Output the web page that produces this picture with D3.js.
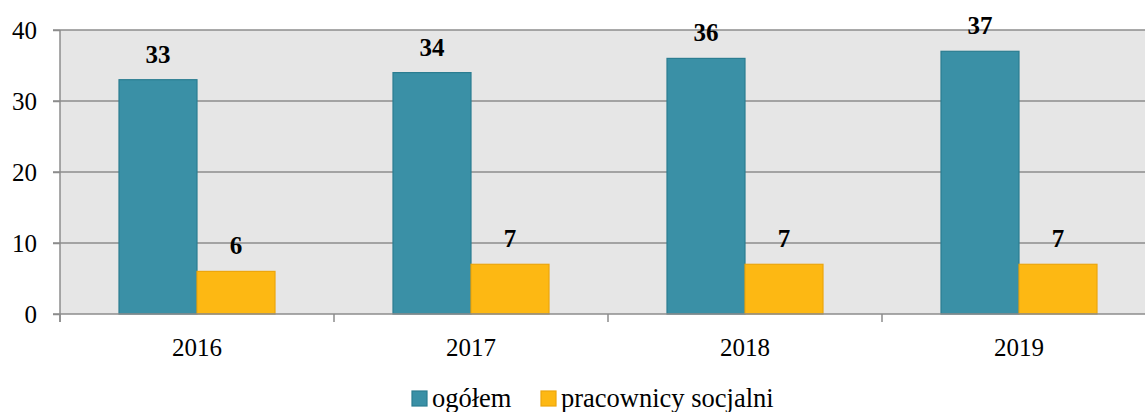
<!DOCTYPE html>
<html>
<head>
<meta charset="utf-8">
<script src="https://cdn.jsdelivr.net/npm/d3@7"></script>
<style>
  body { margin: 0; background: #fff; }
  svg text { font-family: "Liberation Serif", "Times New Roman", serif !important; fill: #000; }
</style>
</head>
<body>
<div id="container"></div>
<script>
const years = ['2016', '2017', '2018', '2019'];
const seriesNames = ['ogółem', 'pracownicy socjalni'];
const ogolem = [33, 34, 36, 37];
const pracownicy = [6, 7, 7, 7];
const yTicks = [0, 10, 20, 30, 40];
const colors = ['#3a90a6', '#fdb813'];
const strokes = ['#2b7d91', '#eda60c'];

const w = 1145, h = 412;
const plotLeft = 60, plotTop = 30, plotBottom = 314;
const catW = 274;

const svg = d3.select('#container').append('svg')
  .attr('width', w).attr('height', h)
  .attr('font-family', '"Liberation Serif", serif');

const xScale = d3.scaleBand()
  .domain(years)
  .range([plotLeft, plotLeft + catW * years.length]);

const yScale = d3.scaleLinear()
  .domain([0, 40])
  .range([plotBottom, plotTop]);

// plot background
svg.append('rect')
  .attr('x', plotLeft).attr('y', plotTop)
  .attr('width', catW * years.length).attr('height', plotBottom - plotTop)
  .attr('fill', '#e6e6e6');

// gridlines
svg.append('g').selectAll('line')
  .data(yTicks.filter(d => d > 0))
  .enter().append('line')
  .attr('x1', plotLeft - 7).attr('x2', plotLeft + catW * years.length)
  .attr('y1', d => yScale(d)).attr('y2', d => yScale(d))
  .attr('stroke', '#8c8c8c').attr('stroke-width', 1.5);

const data = [ogolem, pracownicy];
const inner = d3.scaleBand().domain([0, 1]).range([0, 156]);
const offset = (catW - 156) / 2;

data.forEach((vals, s) => {
  svg.append('g').selectAll('rect')
    .data(vals)
    .enter().append('rect')
    .attr('x', (d, i) => xScale(years[i]) + offset + inner(s))
    .attr('y', d => yScale(d))
    .attr('width', inner.bandwidth())
    .attr('height', d => plotBottom - yScale(d))
    .attr('fill', colors[s])
    .attr('stroke', strokes[s])
    .attr('stroke-width', 1.2);

  svg.append('g').selectAll('text')
    .data(vals)
    .enter().append('text')
    .attr('x', (d, i) => xScale(years[i]) + offset + inner(s) + inner.bandwidth() / 2)
    .attr('y', d => yScale(d) - 17)
    .attr('text-anchor', 'middle')
    .attr('font-size', 25)
    .attr('font-weight', 'bold')
    .text(d => d);
});

// y axis
const yAxis = d3.axisLeft(yScale).tickValues(yTicks).tickSize(7).tickPadding(16);
const gy = svg.append('g')
  .attr('transform', 'translate(' + plotLeft + ',0)')
  .call(yAxis);
gy.attr('font-family', null);
gy.selectAll('text').attr('font-size', 25);
gy.selectAll('line, path').attr('stroke', '#8c8c8c').attr('stroke-width', 1.5);
gy.select('path').attr('d', 'M0,' + plotTop + 'V' + (plotBottom + 8));

// x axis
const gx = svg.append('g')
  .attr('transform', 'translate(0,' + plotBottom + ')');
gx.append('line')
  .attr('x1', plotLeft - 7).attr('x2', plotLeft + catW * years.length)
  .attr('stroke', '#8c8c8c').attr('stroke-width', 1.5);
gx.selectAll('.tk')
  .data(d3.range(years.length + 1))
  .enter().append('line')
  .attr('x1', i => plotLeft + i * catW).attr('x2', i => plotLeft + i * catW)
  .attr('y1', 0).attr('y2', 8)
  .attr('stroke', '#8c8c8c').attr('stroke-width', 1.5);
gx.selectAll('text')
  .data(years)
  .enter().append('text')
  .attr('x', d => xScale(d) + xScale.bandwidth() / 2)
  .attr('y', 42)
  .attr('text-anchor', 'middle')
  .attr('font-size', 25)
  .text(d => d);

// legend
const legendX = [412, 541];
const lg = svg.append('g');
seriesNames.forEach((name, s) => {
  lg.append('rect')
    .attr('x', legendX[s]).attr('y', 391)
    .attr('width', 15).attr('height', 15)
    .attr('fill', colors[s])
    .attr('stroke', strokes[s]).attr('stroke-width', 1.2);
  lg.append('text')
    .attr('x', legendX[s] + 20).attr('y', 407)
    .attr('font-size', 26.5)
    .text(name);
});
</script>
</body>
</html>
